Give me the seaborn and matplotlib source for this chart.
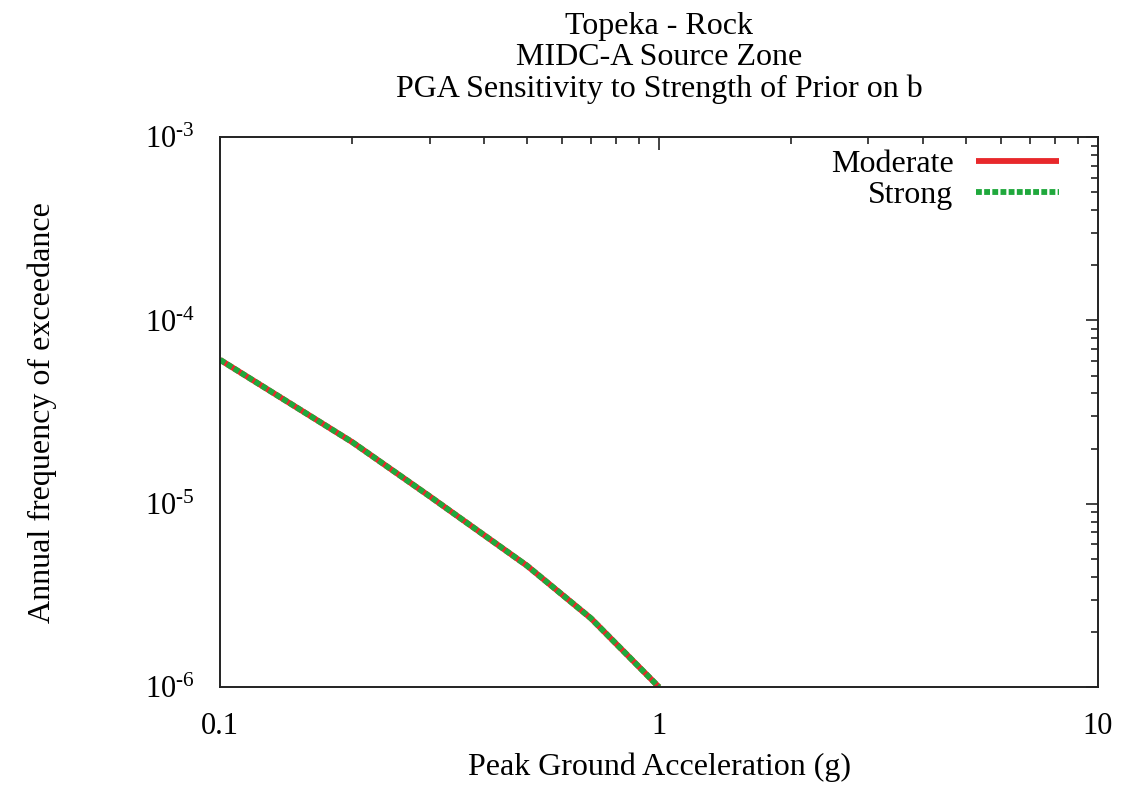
import matplotlib
matplotlib.use("Agg")
import matplotlib.pyplot as plt
from matplotlib.ticker import LogLocator, FuncFormatter, FixedLocator, FixedFormatter, NullFormatter
import numpy as np
import pandas as pd
import seaborn as sns

# Hazard curve values (annual frequency of exceedance vs PGA)
pga = [0.1, 0.2, 0.3, 0.5, 0.7, 1.0]
moderate = [6.1e-5, 2.17e-5, 1.1e-5, 4.6e-6, 2.37e-6, 1.0e-6]
strong = [6.1e-5, 2.17e-5, 1.1e-5, 4.6e-6, 2.37e-6, 1.0e-6]
series_names = ["Moderate", "Strong"]
x_ticks = [0.1, 1, 10]
x_tick_labels = ["0.1", "1", "10"]

title_lines = ["Topeka - Rock", "MIDC-A Source Zone", "PGA Sensitivity to Strength of Prior on b"]

sns.set_theme(style="white")
plt.rcParams["font.family"] = ["Liberation Serif", "DejaVu Serif"]
plt.rcParams["mathtext.fontset"] = "custom"
plt.rcParams["mathtext.rm"] = "Liberation Serif"
plt.rcParams["mathtext.it"] = "Liberation Serif:italic"
plt.rcParams["text.color"] = "black"
plt.rcParams["axes.labelcolor"] = "black"

df = pd.DataFrame({
    "pga": pga * 2,
    "afe": moderate + strong,
    "case": [series_names[0]] * len(pga) + [series_names[1]] * len(pga),
})

fig = plt.figure(figsize=(11.23, 7.88), dpi=100)
ax = fig.add_axes([0.196, 0.128, 0.7817, 0.698])

sns.lineplot(data=df[df["case"] == "Moderate"], x="pga", y="afe", color="#e8282b",
             lw=4.2, ax=ax, label="Moderate", solid_capstyle="butt")
sns.lineplot(data=df[df["case"] == "Strong"], x="pga", y="afe", color="#1fa83c",
             lw=4.2, ax=ax, label="Strong", dashes=False)
ax.lines[1].set_linestyle((0, (1.0, 0.4)))


def pow10_label(v, pos):
    e = int(round(np.log10(v)))
    return r"$10^{\text{%s}}$" % (("-" if e < 0 else "") + str(abs(e)))


ax.set_xscale("log")
ax.set_yscale("log")
ax.set_xlim(0.1, 10)
ax.set_ylim(1e-6, 1e-3)

ax.xaxis.set_major_locator(FixedLocator(x_ticks))
ax.xaxis.set_major_formatter(FixedFormatter(x_tick_labels))
ax.xaxis.set_minor_locator(LogLocator(base=10, subs=np.arange(2, 10)))
ax.xaxis.set_minor_formatter(NullFormatter())
ax.yaxis.set_major_locator(LogLocator(base=10, numticks=10))
ax.yaxis.set_major_formatter(FuncFormatter(pow10_label))
ax.yaxis.set_minor_locator(LogLocator(base=10, subs=np.arange(2, 10), numticks=10))
ax.yaxis.set_minor_formatter(NullFormatter())

ax.tick_params(which="both", direction="in", top=True, right=True, colors="#222222",
               labelcolor="black", labelsize=22)
ax.tick_params(which="major", length=9, width=1.2)
ax.tick_params(axis="x", which="major", pad=18)
ax.tick_params(axis="y", which="major", pad=18)
ax.tick_params(which="minor", length=5, width=1.2)
for s in ax.spines.values():
    s.set_color("#222222")
    s.set_linewidth(1.4)

ax.set_xlabel("Peak Ground Acceleration (g)", fontsize=23, labelpad=8)
ax.set_ylabel("Annual frequency of exceedance", fontsize=23, labelpad=63)
ax.set_title("\n".join(title_lines), fontsize=23, pad=29, linespacing=1.1)

leg = ax.legend(loc="upper right", frameon=False, markerfirst=False, fontsize=23,
                handlelength=2.6, handletextpad=0.7, borderaxespad=0.0, labelspacing=0.05,
                bbox_to_anchor=(0.97, 1.0))

fig.savefig("out.png", dpi=100)
